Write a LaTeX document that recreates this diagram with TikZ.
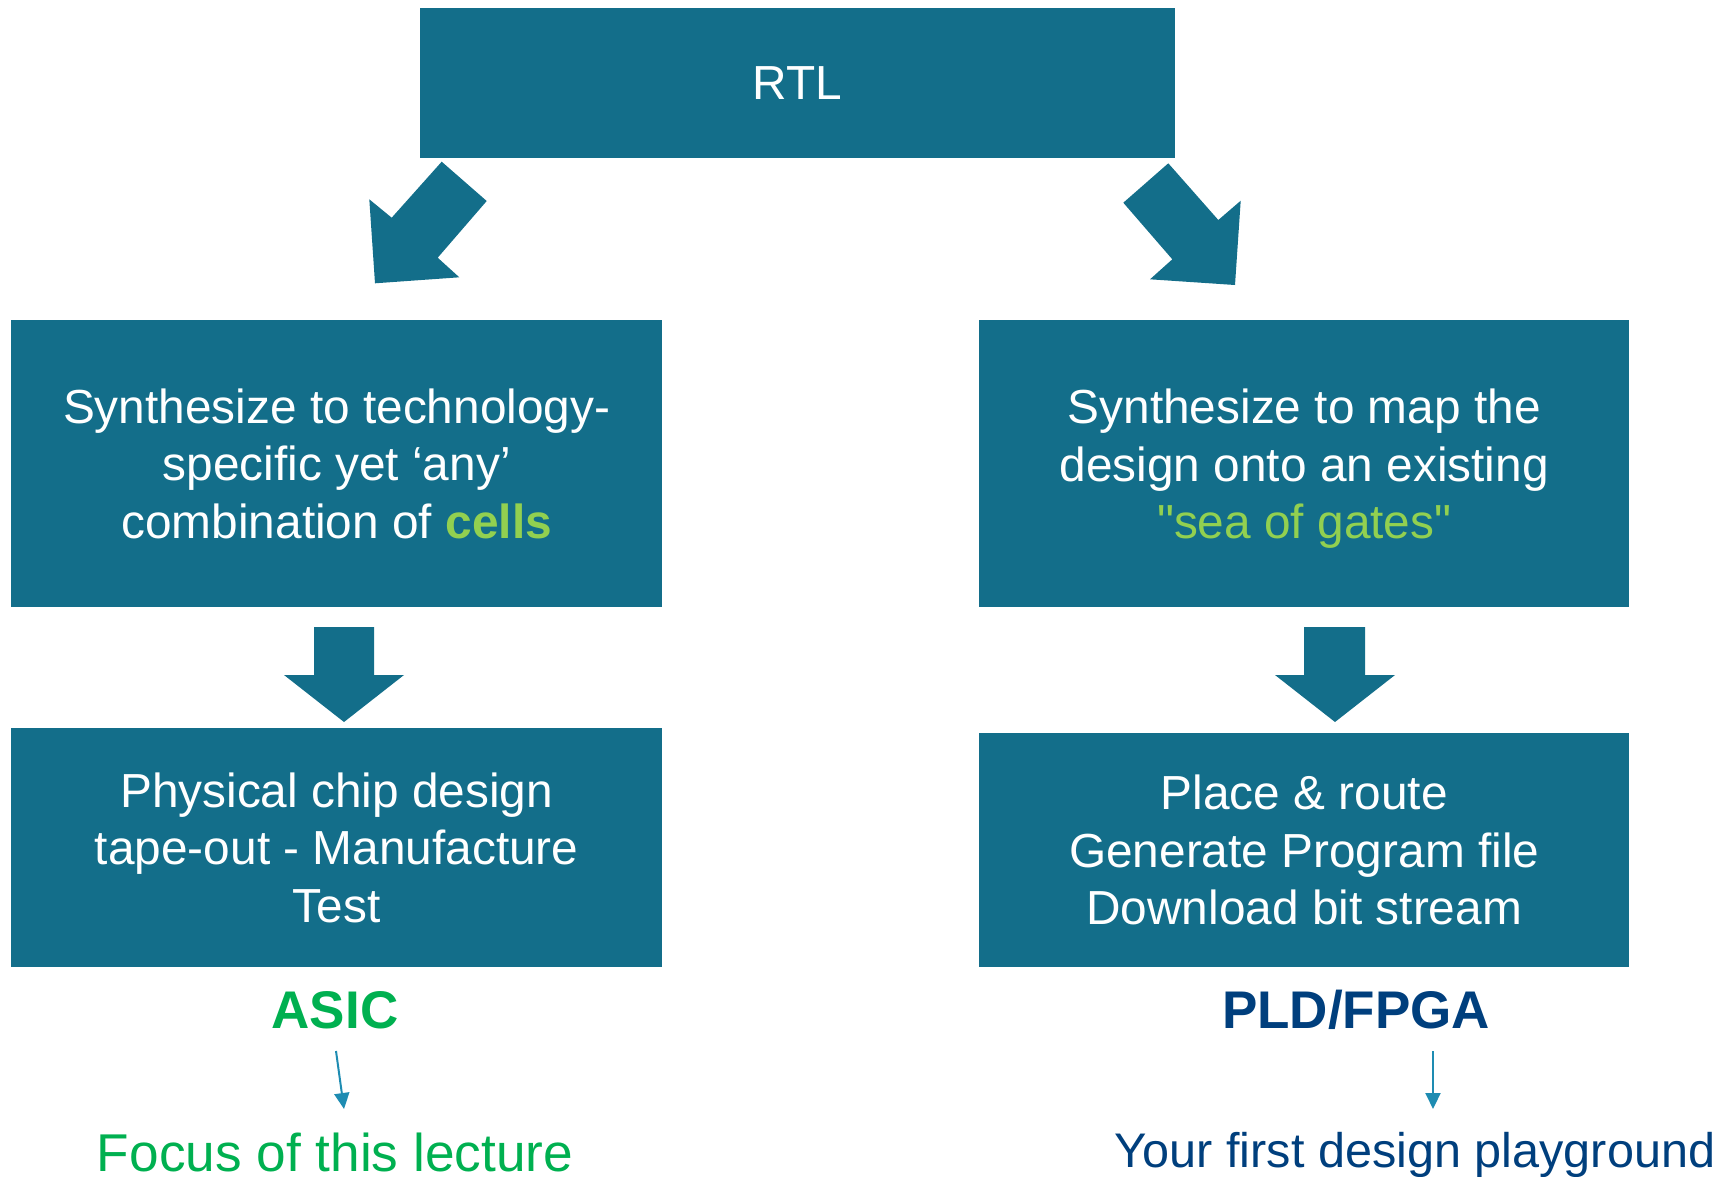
\documentclass[tikz,border=0pt]{standalone}
\usepackage{fontspec}
\setmainfont{Liberation Sans}
\usetikzlibrary{arrows.meta}

\definecolor{boxteal}{RGB}{19,110,138}
\definecolor{cellgreen}{RGB}{146,208,80}
\definecolor{asicgreen}{RGB}{0,176,80}
\definecolor{fpgablue}{RGB}{0,63,125}
\definecolor{pointerblue}{RGB}{30,140,178}

% text with straight double quotes, untouched by the TeX ligature mapping
\newcommand{\rawquotes}[1]{{\addfontfeature{Ligatures=TeXOff}#1}}
% a line whose descenders do not count for vertical centring
\newcommand{\nodepth}[1]{\raisebox{0pt}[\height][0pt]{#1}}

\tikzset{
  flowbox/.style={fill=boxteal, draw=none, text=white, align=center,
    inner sep=0pt, anchor=north west,
    font=\fontsize{47.8}{57.5}\selectfont},
  blockarrow/.style={fill=boxteal, draw=none},
  kindlabel/.style={font=\fontsize{53}{60}\selectfont\bfseries, inner sep=0pt},
  notelabel/.style={font=\fontsize{53.2}{60}\selectfont, inner sep=0pt, anchor=base},
  pointer/.style={draw=pointerblue, line width=2pt,
    -{Triangle[length=16pt,width=15pt]}},
}

\begin{document}
\begin{tikzpicture}[x=1pt,y=-1pt]
\useasboundingbox (0,0) rectangle (1729,1176);

% boxes
\node[flowbox, minimum width=755pt, minimum height=150pt] (rtl) at (420,8) {RTL};
\node[flowbox, minimum width=651pt, minimum height=287pt] (synA) at (11,320)
  {Synthesize to technology-\\specific yet ‘any’\\combination of \textcolor{cellgreen}{\bfseries cells}};
\node[flowbox, minimum width=650pt, minimum height=287pt] (synF) at (979,320)
  {Synthesize to map the\\design onto an existing\\\nodepth{\textcolor{cellgreen}{\rawquotes{"sea of gates"}}}};
\node[flowbox, minimum width=651pt, minimum height=239pt] (physA) at (11,728)
  {Physical chip design\\tape-out - Manufacture\\Test};
\node[flowbox, minimum width=650pt, minimum height=234pt] (physF) at (979,733)
  {Place \& route\\Generate Program file\\Download bit stream};

% diagonal block arrows below RTL
\path[blockarrow] (441.7,161.7) -- (486.7,201) -- (437.7,257.7) -- (459.3,277.3)
  -- (375,283.3) -- (369.3,199.3) -- (391.7,217.7) -- cycle;
\path[blockarrow] (1168.3,163.3) -- (1123.3,202.7) -- (1172.3,259.3) -- (1150,279.3)
  -- (1235,285) -- (1240.7,200.7) -- (1218.3,220) -- cycle;

% downward block arrows
\path[blockarrow] (314,627) -- (374,627) -- (374,675) -- (404,675) -- (344,722)
  -- (284,675) -- (314,675) -- cycle;
\path[blockarrow] (1304,627) -- (1365,627) -- (1365,675) -- (1395,675) -- (1335,722)
  -- (1275,675) -- (1304,675) -- cycle;

% technology labels
\node[kindlabel, text=asicgreen, anchor=base] (asic) at (335,1028) {ASIC};
\node[kindlabel, text=fpgablue, anchor=base] (fpga) at (1356,1028) {PLD/FPGA};

% notes
\node[notelabel, text=asicgreen] (focus) at (335,1171) {Focus of this lecture};
\node[notelabel, text=fpgablue, font=\fontsize{48.6}{60}\selectfont] (play) at (1415,1167) {Your first design playground};

% pointers
\coordinate (pA1) at (336,1051);
\coordinate (pA2) at (344,1109);
\coordinate (pF1) at (1433,1051);
\coordinate (pF2) at (1433,1109);
\draw[pointer] (pA1) -- (pA2);
\draw[pointer] (pF1) -- (pF2);
\end{tikzpicture}
\end{document}
